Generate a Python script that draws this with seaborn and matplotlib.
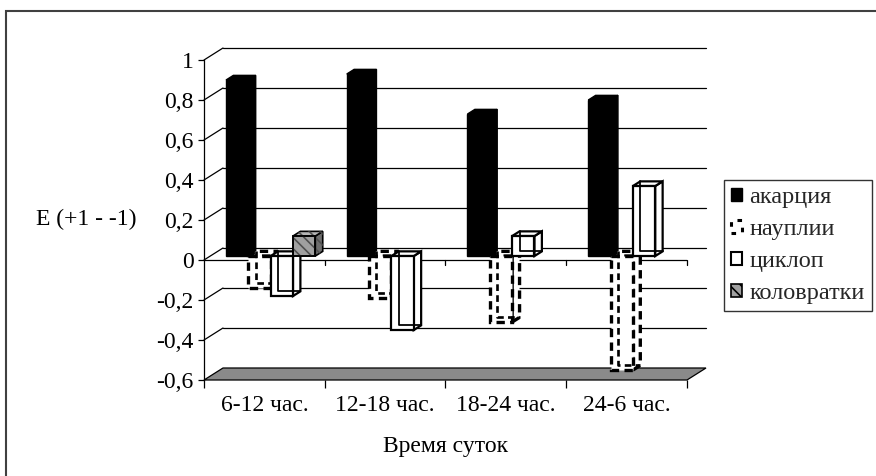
import numpy as np
import pandas as pd
import matplotlib.pyplot as plt
import matplotlib.transforms as mtransforms
from matplotlib.patches import Patch, Polygon, Rectangle
import seaborn as sns

# данные
times = ['6-12 час.', '12-18 час.', '18-24 час.', '24-6 час.']
groups = ['акарция', 'науплии', 'циклоп', 'коловратки']
akarcia = [0.88, 0.91, 0.71, 0.78]
nauplii = [-0.16, -0.21, -0.33, -0.57]
ciklop = [-0.2, -0.37, 0.1, 0.35]
kolovratki = [0.1, 0, 0, 0]
yticks = [-0.6, -0.4, -0.2, 0, 0.2, 0.4, 0.6, 0.8, 1]
ytick_labels = ['-0,6', '-0,4', '-0,2', '0', '0,2', '0,4', '0,6', '0,8', '1']

series = [akarcia, nauplii, ciklop, kolovratki]
df = pd.DataFrame({
    'time': np.tile(times, 4),
    'group': np.repeat(groups, 4),
    'E': np.concatenate(series),
})

sns.set_theme(style='white')
plt.rcParams['font.family'] = ['Liberation Serif', 'DejaVu Serif']
plt.rcParams['hatch.linewidth'] = 1.2
FS = 17

W, H = 876, 476
fig = plt.figure(figsize=(W / 100, H / 100), dpi=100)
ax = fig.add_axes([204 / W, (H - 380) / H, 483 / W, 320 / H])
ax.set_xlim(-0.5, 3.5)
ax.set_ylim(-0.6, 1.0)

# глубина "3D" стенки в единицах данных
DX = 19 / 120.75
DY = 12 / 200
d0, d1 = 0.33, 0.72


def proj(x, y, d):
    return (x + d * DX, y + d * DY)


# задняя стенка: сетка и наклонные линии
for t in yticks:
    if t == -0.6:
        continue
    ax.plot([-0.5 + DX, 3.5 + DX], [t + DY, t + DY], color='black', lw=0.9, clip_on=False, zorder=1)
    ax.plot([-0.5, -0.5 + DX], [t, t + DY], color='black', lw=0.9, clip_on=False, zorder=1)

# пол
floor = Polygon([proj(-0.5, -0.6, 0), proj(3.5, -0.6, 0), proj(3.5, -0.6, 1), proj(-0.5, -0.6, 1)],
                closed=True, facecolor='#8a8a8a', edgecolor='black', lw=0.9, clip_on=False, zorder=1.5)
ax.add_patch(floor)

# ось категорий на нуле
ax.plot([-0.5, 3.5], [0, 0], color='black', lw=0.9, zorder=1.6)
for xb in [0.5, 1.5, 2.5, 3.5]:
    ax.plot([xb, xb], [0, -0.027], color='black', lw=0.9, clip_on=False, zorder=1.6)

sns.barplot(data=df, x='time', y='E', hue='group', hue_order=groups, order=times,
            palette=['black', 'white', 'white', '#a0a0a0'], width=0.74, saturation=1,
            errorbar=None, legend=False, ax=ax)

front_style = [
    dict(facecolor='black', edgecolor='black', lw=1.0),
    dict(facecolor='white', edgecolor='black', lw=2.4, ls=(0, (2.5, 1.6))),
    dict(facecolor='white', edgecolor='black', lw=1.6),
    dict(facecolor='#a0a0a0', edgecolor='black', lw=1.2),
]
top_col = ['black', 'white', 'white', '#b5b5b5']
side_col = ['black', 'white', 'white', '#6e6e6e']

shift = mtransforms.Affine2D().translate(d0 * DX, d0 * DY) + ax.transData

for s, cont in enumerate(ax.containers):
    st = front_style[s]
    for bar, v in zip(cont.patches, series[s]):
        if v == 0:
            bar.set_visible(False)
            continue
        x0, w = bar.get_x(), bar.get_width()
        ytop, ybot = max(v, 0), min(v, 0)
        z = 3 + s
        side = [proj(x0 + w, ybot, d0), proj(x0 + w, ybot, d1), proj(x0 + w, ytop, d1), proj(x0 + w, ytop, d0)]
        top = [proj(x0, ytop, d0), proj(x0 + w, ytop, d0), proj(x0 + w, ytop, d1), proj(x0, ytop, d1)]
        kw = dict(edgecolor=st['edgecolor'], lw=st['lw'], ls=st.get('ls', '-'), closed=True, zorder=z)
        ax.add_patch(Polygon(side, facecolor=side_col[s], **kw))
        ax.add_patch(Polygon(top, facecolor=top_col[s], **kw))
        bar.set_transform(shift)
        bar.set_facecolor(st['facecolor'])
        bar.set_edgecolor(st['edgecolor'])
        bar.set_linewidth(st['lw'])
        bar.set_linestyle(st.get('ls', '-'))
        bar.set_zorder(z + 0.5)
        if s in (1, 2):
            # видимые задние рёбра "прозрачных" столбиков
            bl, tl, br = proj(x0, ybot, d1), proj(x0, ytop, d1), proj(x0 + w, ybot, d1)
            ax.plot([tl[0], bl[0], br[0]], [tl[1], bl[1], br[1]], color='black',
                    lw=st['lw'] * 0.8, ls=st.get('ls', '-'), zorder=z + 0.6)
        if s == 3:
            for poly in (side, top):
                ax.add_patch(Polygon(poly, facecolor='none', edgecolor='#505050', lw=0,
                                     hatch='\\\\\\', zorder=z + 0.1))
            hb = Rectangle((x0, ybot), w, ytop - ybot, facecolor='none', edgecolor='#505050', lw=0,
                           hatch='\\\\\\', transform=shift, zorder=z + 0.6)
            ax.add_patch(hb)
            ax.add_patch(Rectangle((x0, ybot), w, ytop - ybot, facecolor='none', edgecolor='black',
                                   lw=1.2, transform=shift, zorder=z + 0.7))

# оси
for sp in ['top', 'right', 'bottom']:
    ax.spines[sp].set_visible(False)
ax.spines['left'].set_color('black')
ax.spines['left'].set_linewidth(0.9)

ax.set_yticks(yticks, ytick_labels)
ax.set_xticks(range(4), times)
ax.set_xticks([-0.5, 0.5, 1.5, 2.5, 3.5], minor=True)
ax.tick_params(axis='y', which='major', left=True, length=4.5, width=0.9, pad=3, labelsize=FS, colors='black')
ax.tick_params(axis='x', which='major', bottom=False, length=0, pad=11, labelsize=FS, colors='black')
ax.tick_params(axis='x', which='minor', bottom=True, length=5.5, width=0.9, color='black')

ax.set_xlabel('Время суток', fontsize=FS, color='black')
ax.xaxis.set_label_coords(0.5, -0.175)
ax.set_ylabel('E (+1 - -1)', fontsize=FS, rotation=0, ha='center', va='center', color='black')
ax.yaxis.set_label_coords(-0.244, 0.503)

# легенда
handles = [
    Patch(facecolor='black', edgecolor='black', lw=1),
    Patch(facecolor='white', edgecolor='black', lw=2.2, ls=(0, (1.5, 2.5))),
    Patch(facecolor='white', edgecolor='black', lw=1.5),
    Patch(facecolor='#a0a0a0', edgecolor='black', lw=1.2, hatch='\\\\\\'),
]
leg = fig.legend(handles, groups, loc='upper left', bbox_to_anchor=(724 / W, 1 - 180 / H),
                 bbox_transform=fig.transFigure, fontsize=17.5, frameon=True, fancybox=False,
                 handlelength=0.45, handleheight=0.45, handletextpad=0.3, labelspacing=0.45,
                 borderpad=0.3, borderaxespad=0)
leg.get_frame().set_edgecolor('black')
leg.get_frame().set_linewidth(1.0)

# рамка вокруг диаграммы
fig.add_artist(Rectangle((6 / W, -0.05), 1.2, (H - 11) / H + 0.05, transform=fig.transFigure,
                         fill=False, edgecolor='#404040', lw=1.5))

fig.savefig('out.png', dpi=100)
